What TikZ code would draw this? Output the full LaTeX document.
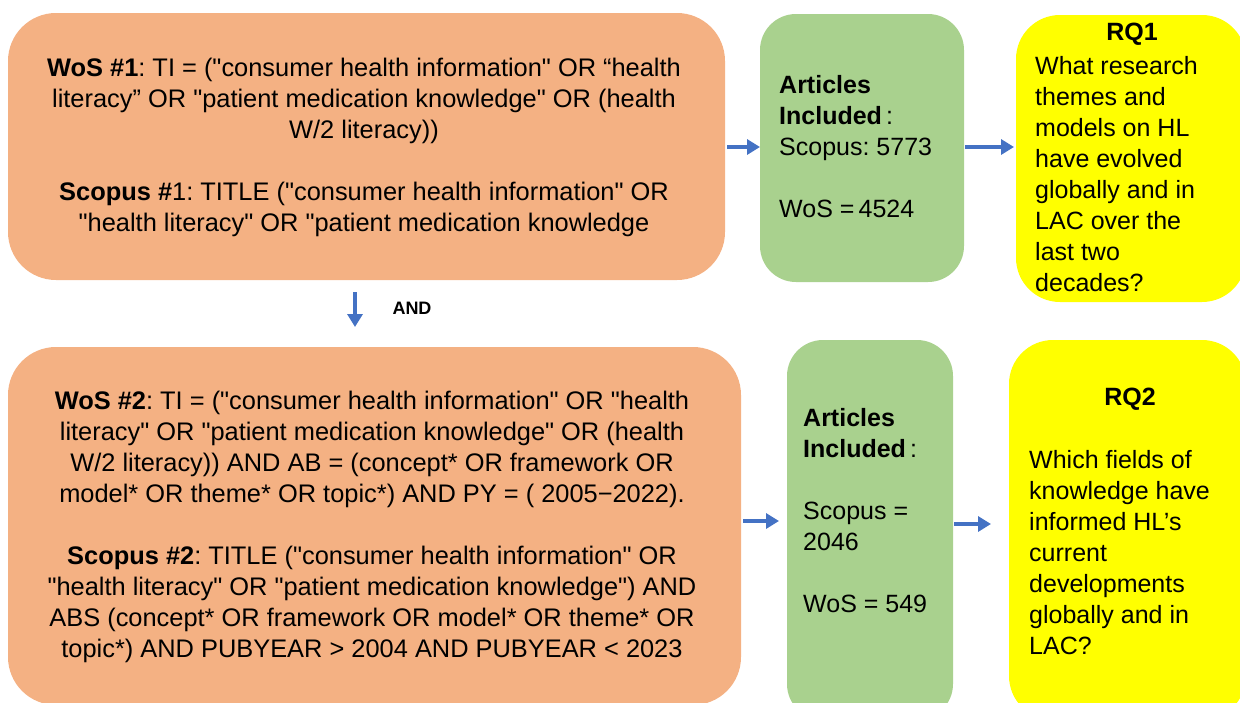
\documentclass[tikz,border=0pt]{standalone}
\usepackage{fontspec}
\setmainfont{Liberation Sans}[Ligatures=TeXOff]
\usetikzlibrary{arrows.meta,calc}
\definecolor{orangebox}{HTML}{F4B183}
\definecolor{greenbox}{HTML}{A9D18E}
\definecolor{yellowbox}{HTML}{FFFF00}
\definecolor{arrowblue}{HTML}{4472C4}
\frenchspacing
\begin{document}
\begin{tikzpicture}[x=1pt,y=-1pt,
  box/.style={draw=none, inner sep=0pt, outer sep=0pt},
  orangestyle/.style={box, fill=orangebox, rounded corners=48pt},
  greenstyle/.style={box, fill=greenbox, rounded corners=36pt},
  yellowstyle/.style={box, fill=yellowbox, rounded corners=44pt},
  bodytext/.style={font=\fontsize{25}{31}\selectfont\frenchspacing, inner sep=0pt},
  querytext/.style={font=\fontsize{25.4}{31}\selectfont\frenchspacing, inner sep=0pt, align=center},
  arr/.style={draw=arrowblue, line width=4.5pt, -{Triangle[length=13pt,width=15pt]}}
]
\useasboundingbox (0,0) rectangle (1240,702);
\clip (0,0) rectangle (1240,702);
% boxes
\node[orangestyle, minimum width=717pt, minimum height=267pt] (o1) at (366.5,146.5) {};
\node[orangestyle, minimum width=733pt, minimum height=358pt] (o2) at (374.5,526) {};
\node[greenstyle, minimum width=204pt, minimum height=268pt] (g1) at (862,148) {};
\node[greenstyle, minimum width=166pt, minimum height=380pt] (g2) at (870,530) {};
\node[yellowstyle, minimum width=230pt, minimum height=287pt] (y1) at (1131,158.5) {};
\node[yellowstyle, minimum width=237pt, minimum height=380pt] (y2) at (1127.5,530) {};
% texts
\node[querytext] (t1) at (364,147) {%
\textbf{WoS \#1}: TI = ("consumer health information" OR “health\\
literacy” OR "patient medication knowledge" OR (health\\
W/2 literacy))\\[31pt]
\textbf{Scopus \#}1: TITLE ("consumer health information" OR\\
"health literacy" OR "patient medication knowledge};
\node[querytext] (t2) at (372,527) {%
\textbf{WoS \#2}: TI = ("consumer health information" OR "health\\
literacy" OR "patient medication knowledge" OR (health\\
W/2 literacy)) AND AB = (concept* OR framework OR\\
model* OR theme* OR topic*) AND PY = ( 2005−2022).\\[31pt]
\textbf{Scopus \#2}: TITLE ("consumer health information" OR\\
"health literacy" OR "patient medication knowledge") AND\\
ABS (concept* OR framework OR model* OR theme* OR\\
topic*) AND PUBYEAR > 2004 AND PUBYEAR < 2023};
\node[bodytext, align=left, anchor=west] (t3) at (779,147) {%
\textbf{Articles}\\
\textbf{Included}\,:\\
Scopus: 5773\\[31pt]
WoS =\,4524};
\node[bodytext, align=left, anchor=west] (t4) at (803,511) {%
\textbf{Articles}\\
\textbf{Included}\,:\\[31pt]
Scopus =\\
2046\\[31pt]
WoS = 549};
\node[bodytext, font=\fontsize{25}{31}\selectfont\bfseries] (rq1) at (1132,34) {RQ1};
\node[bodytext, align=left, anchor=west] (q1) at (1035,174) {%
What research\\
themes and\\
models on HL\\
have evolved\\
globally and in\\
LAC over the\\
last two\\
decades?};
\node[bodytext, font=\fontsize{25}{31}\selectfont\bfseries] (rq2) at (1130,399) {RQ2};
\node[bodytext, align=left, anchor=west] (q2) at (1029,553) {%
Which fields of\\
knowledge have\\
informed HL’s\\
current\\
developments\\
globally and in\\
LAC?};
\node[inner sep=0pt, font=\fontsize{18}{22}\selectfont\bfseries] (andlbl) at (412,308) {AND};
% arrows
\draw[arr] ($(o1.east)+(2,0.5)$) -- ($(g1.west |- o1.east)+(0,0.5)$);
\draw[arr] ($(g1.east)+(1,-1)$) -- ($(y1.west |- g1.east)+(-2,-1)$);
\draw[arr] ($(o1.south)+(-11.5,12)$) -- ($(o2.north)+(-19.5,-20)$);
\draw[arr] ($(o2.east)+(2,-5)$) -- ($(g2.west |- o2.east)+(-8,-5)$);
\draw[arr] ($(g2.east)+(1,-6)$) -- ($(y2.west |- g2.east)+(-18,-6)$);
\end{tikzpicture}
\end{document}
